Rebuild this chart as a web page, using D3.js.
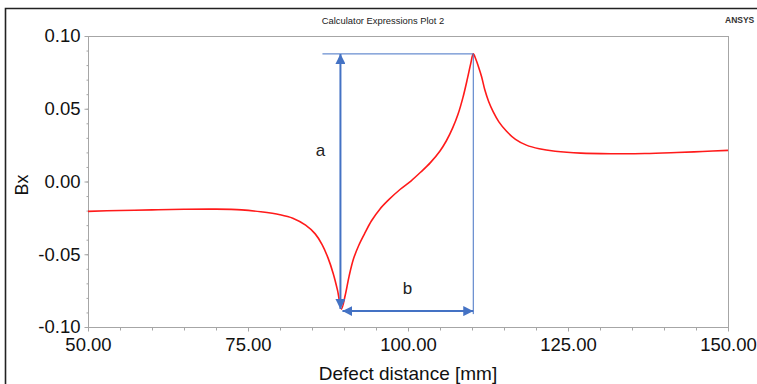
<!DOCTYPE html>
<html>
<head>
<meta charset="utf-8">
<script src="https://cdn.jsdelivr.net/npm/d3@7"></script>
<style>
  body { margin: 0; background: #fff; }
  svg { display: block; font-family: "Liberation Sans", Arial, sans-serif; }
</style>
</head>
<body>
<svg id="chart" width="757" height="384"></svg>
<script>
// defect distance [mm]
const distance = [
  50, 55, 60, 65, 70, 74, 77, 80, 82, 84, 85.5, 86.6, 87.5, 88.3, 89.0, 89.6,
  90.2, 90.8, 91.5, 92.3, 93.2, 94.3, 95.6, 97, 98.75, 100.5, 102, 103.5, 105, 106,
  107, 107.8, 108.6, 109.3, 109.8, 110.2, 110.6, 111.0, 111.5, 112.0, 112.6, 113.3,
  114.2, 115.4, 116.8, 118.5, 120.5, 123, 127, 132, 137, 142, 146, 150
];
// Bx
const bx = [
  -0.0205, -0.0199, -0.0195, -0.0191, -0.0190, -0.0195, -0.0208, -0.0228, -0.0252,
  -0.0300, -0.0360, -0.0435, -0.0525, -0.0630, -0.0750, -0.0877,
  -0.0780, -0.0650, -0.0530, -0.0440, -0.0360, -0.0270, -0.0190, -0.0125, -0.0055,
  0.0005, 0.0065, 0.0130, 0.0210, 0.0280, 0.0370, 0.0460, 0.0580, 0.0710, 0.0810,
  0.0877, 0.0840, 0.0790, 0.0720, 0.0630, 0.0550, 0.0480, 0.0410, 0.0345, 0.0290,
  0.0250, 0.0225, 0.0208, 0.0195, 0.0191, 0.0192, 0.0199, 0.0206, 0.0214
];
const xTicks = [50, 75, 100, 125, 150];
const yTicks = [-0.1, -0.05, 0, 0.05, 0.1];

const data = distance.map((d, i) => ({ x: d, y: bx[i] }));

const svg = d3.select("#chart");
const plotLeft = 88, plotRight = 728, plotTop = 36, plotBottom = 327;
const axisColor = "#a6a6a6";
const blue = "#4472c4";
// ANSYS style labels use a plain hyphen for negatives
const fmt = v => d3.format(".2f")(v).replace("\u2212", "-");

const x = d3.scaleLinear().domain([50, 150]).range([plotLeft, plotRight]);
const y = d3.scaleLinear().domain([-0.1, 0.1]).range([plotBottom, plotTop]);

// outer frame lines
svg.append("path")
  .attr("d", `M5.5,384 V8.5 H757`)
  .attr("fill", "none")
  .attr("stroke", "#222")
  .attr("stroke-width", 1.6);

// title + vendor tag
svg.append("text")
  .attr("x", 383).attr("y", 24)
  .attr("text-anchor", "middle")
  .attr("font-size", 9.4)
  .attr("fill", "#222")
  .text("Calculator Expressions Plot 2");
svg.append("text")
  .attr("x", 725).attr("y", 23)
  .attr("font-size", 8.5)
  .attr("font-weight", "bold")
  .attr("fill", "#333")
  .text("ANSYS");

// plot box
svg.append("rect")
  .attr("x", plotLeft + 0.5).attr("y", plotTop + 0.5)
  .attr("width", plotRight - plotLeft).attr("height", plotBottom - plotTop)
  .attr("fill", "none")
  .attr("stroke", axisColor);

// minor ticks
svg.append("g")
  .attr("transform", `translate(${plotLeft + 0.5},0)`)
  .call(d3.axisLeft(y).tickValues(d3.range(-10, 11).map(d => d / 100)).tickSize(2).tickFormat(""))
  .call(g => g.select(".domain").remove())
  .call(g => g.selectAll("line").attr("stroke", axisColor));
svg.append("g")
  .attr("transform", `translate(0,${plotBottom + 0.5})`)
  .call(d3.axisBottom(x).tickValues(d3.range(50, 151, 5)).tickSize(3).tickFormat(""))
  .call(g => g.select(".domain").remove())
  .call(g => g.selectAll("line").attr("stroke", axisColor));

// major axes
const yAxis = svg.append("g")
  .attr("transform", `translate(${plotLeft + 0.5},0)`)
  .call(d3.axisLeft(y).tickValues(yTicks).tickSize(4).tickPadding(4).tickFormat(fmt));
const xAxis = svg.append("g")
  .attr("transform", `translate(0,${plotBottom + 0.5})`)
  .call(d3.axisBottom(x).tickValues(xTicks).tickSize(4).tickPadding(6).tickFormat(fmt));
[yAxis, xAxis].forEach(g => {
  g.select(".domain").remove();
  g.selectAll("line").attr("stroke", axisColor);
  g.selectAll("text")
    .attr("font-size", 18.5)
    .attr("font-family", "Liberation Sans, Arial, sans-serif")
    .attr("fill", "#111");
});

// axis titles
svg.append("text")
  .attr("x", 408).attr("y", 380)
  .attr("text-anchor", "middle")
  .attr("font-size", 19)
  .attr("fill", "#111")
  .text("Defect distance [mm]");
svg.append("text")
  .attr("transform", `translate(28,185) rotate(-90)`)
  .attr("text-anchor", "middle")
  .attr("font-size", 18)
  .attr("fill", "#111")
  .text("Bx");

// curve
const line = d3.line()
  .x(d => x(d.x))
  .y(d => y(d.y))
  .curve(d3.curveCatmullRom.alpha(0.5));

svg.append("path")
  .datum(data)
  .attr("fill", "none")
  .attr("stroke", "#ff1a1a")
  .attr("stroke-width", 1.6)
  .attr("d", line);

// annotation: peak-to-peak amplitude (a) and spacing (b)
const minPt = data.reduce((a, b) => (b.y < a.y ? b : a));
const maxPt = data.reduce((a, b) => (b.y > a.y ? b : a));
const xMin = x(minPt.x), yMin = y(minPt.y);
const xMax = x(maxPt.x), yMax = y(maxPt.y);

svg.append("defs").append("marker")
  .attr("id", "arrow")
  .attr("viewBox", "0 0 10 10")
  .attr("refX", 10).attr("refY", 5)
  .attr("markerWidth", 10).attr("markerHeight", 10)
  .attr("markerUnits", "userSpaceOnUse")
  .attr("orient", "auto-start-reverse")
  .append("path")
  .attr("d", "M0,0 L10,5 L0,10 z")
  .attr("fill", blue);

const ann = svg.append("g").attr("stroke", blue).attr("fill", "none");
// top guide line from left of arrow to peak
ann.append("line")
  .attr("x1", xMin - 19).attr("y1", yMax)
  .attr("x2", xMax).attr("y2", yMax)
  .attr("stroke-width", 1);
// vertical guide at peak
ann.append("line")
  .attr("x1", xMax).attr("y1", yMax)
  .attr("x2", xMax).attr("y2", yMin + 5)
  .attr("stroke-width", 1);
// a arrow
ann.append("line")
  .attr("x1", xMin - 1).attr("y1", yMin)
  .attr("x2", xMin - 1).attr("y2", yMax)
  .attr("stroke-width", 2)
  .attr("marker-start", "url(#arrow)")
  .attr("marker-end", "url(#arrow)");
// b arrow
ann.append("line")
  .attr("x1", xMin + 1).attr("y1", yMin + 2)
  .attr("x2", xMax).attr("y2", yMin + 2)
  .attr("stroke-width", 2)
  .attr("marker-start", "url(#arrow)")
  .attr("marker-end", "url(#arrow)");

svg.append("text")
  .attr("x", xMin - 21).attr("y", (yMin + yMax) / 2 - 26)
  .attr("text-anchor", "middle")
  .attr("font-size", 17)
  .attr("fill", "#222")
  .text("a");
svg.append("text")
  .attr("x", (xMin + xMax) / 2).attr("y", yMin - 15)
  .attr("text-anchor", "middle")
  .attr("font-size", 17)
  .attr("fill", "#222")
  .text("b");
</script>
</body>
</html>
